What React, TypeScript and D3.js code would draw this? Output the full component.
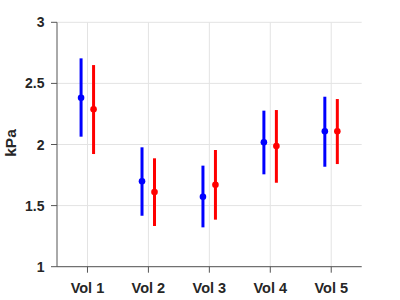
import React from "react";
import * as d3 from "d3";

const categories = ["Vol 1", "Vol 2", "Vol 3", "Vol 4", "Vol 5"];
const blueMean = [2.383, 1.699, 1.573, 2.018, 2.108];
const blueLow = [2.064, 1.417, 1.322, 1.756, 1.818];
const blueHigh = [2.705, 1.977, 1.827, 2.277, 2.391];
const redMean = [2.288, 1.611, 1.671, 1.988, 2.108];
const redLow = [1.922, 1.333, 1.385, 1.687, 1.840];
const redHigh = [2.65, 1.887, 1.955, 2.282, 2.372];
const yTicks = [1, 1.5, 2, 2.5, 3];
const yTickLabels = ["1", "1.5", "2", "2.5", "3"];

export default function App() {
  const W = 400, H = 300;
  const x = d3.scaleLinear().domain([0.5, 5.5]).range([57, 361.7]);
  const y = d3.scaleLinear().domain([1, 3]).range([266.7, 22.3]);
  const font = "Arial, 'Liberation Sans', Helvetica, sans-serif";
  const series = [
    { color: "#0000ff", off: -0.105, mean: blueMean, low: blueLow, high: blueHigh },
    { color: "#ff0000", off: 0.1, mean: redMean, low: redLow, high: redHigh },
  ];
  return (
    <svg width={W} height={H} style={{ position: "absolute", left: 0, top: 0, background: "#fff" }}>
      {/* grid */}
      {yTicks.map((t) => (
        <line key={"gy" + t} x1={x(0.5)} x2={x(5.5)} y1={y(t)} y2={y(t)} stroke="#e3e3e3" strokeWidth={1} />
      ))}
      {categories.map((c, i) => (
        <line key={"gx" + c} x1={x(i + 1)} x2={x(i + 1)} y1={y(3)} y2={y(1)} stroke="#e3e3e3" strokeWidth={1} />
      ))}
      {/* axes */}
      <line x1={x(0.5)} x2={x(0.5)} y1={y(3)} y2={y(1)} stroke="#555" strokeWidth={1} />
      <line x1={x(0.5)} x2={x(5.5)} y1={y(1)} y2={y(1)} stroke="#555" strokeWidth={1} />
      {yTicks.map((t, i) => (
        <g key={"ty" + t}>
          <line x1={x(0.5) - 6} x2={x(0.5)} y1={y(t)} y2={y(t)} stroke="#555" strokeWidth={1} />
          <text x={x(0.5) - 12.5} y={y(t)} dy="0.36em" textAnchor="end" fontFamily={font} fontWeight="bold" fontSize={14} fill="#262626">
            {yTickLabels[i]}
          </text>
        </g>
      ))}
      {categories.map((c, i) => (
        <g key={"tx" + c}>
          <line x1={x(i + 1)} x2={x(i + 1)} y1={y(1)} y2={y(1) + 6} stroke="#555" strokeWidth={1} />
          <text x={x(i + 1)} y={293.3} textAnchor="middle" fontFamily={font} fontWeight="bold" fontSize={14.5} fill="#262626">
            {c}
          </text>
        </g>
      ))}
      <text transform={`translate(16,143) rotate(-90)`} textAnchor="middle" fontFamily={font} fontWeight="bold" fontSize={15.5} fill="#262626">
        kPa
      </text>
      {/* error bars */}
      {series.map((s, si) =>
        categories.map((c, i) => (
          <g key={"e" + si + c}>
            <line x1={x(i + 1 + s.off)} x2={x(i + 1 + s.off)} y1={y(s.low[i])} y2={y(s.high[i])} stroke={s.color} strokeWidth={3} />
            <circle cx={x(i + 1 + s.off)} cy={y(s.mean[i])} r={3.3} fill={s.color} />
          </g>
        ))
      )}
    </svg>
  );
}
